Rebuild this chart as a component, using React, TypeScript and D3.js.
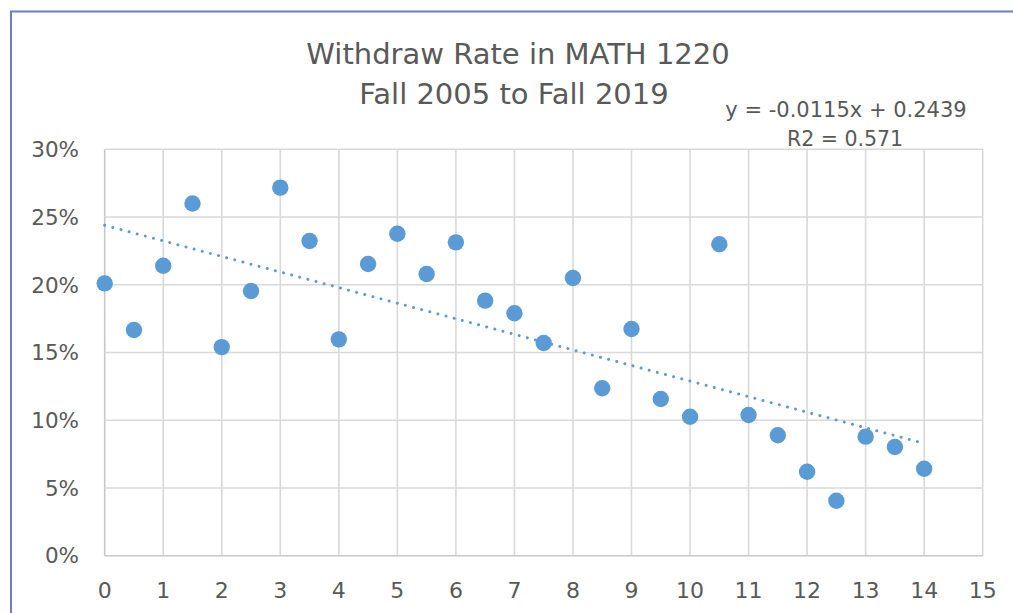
import React from "react";
import * as d3 from "d3";

const xValues = [0, 0.5, 1, 1.5, 2, 2.5, 3, 3.5, 4, 4.5, 5, 5.5, 6, 6.5, 7, 7.5, 8, 8.5, 9, 9.5, 10, 10.5, 11, 11.5, 12, 12.5, 13, 13.5, 14];
const yValues = [0.201, 0.1666, 0.214, 0.260, 0.154, 0.1954, 0.2717, 0.2323, 0.1597, 0.2153, 0.2377, 0.208, 0.2313, 0.1883, 0.179, 0.157, 0.205, 0.1236, 0.1673, 0.1157, 0.1026, 0.2299, 0.1039, 0.0889, 0.062, 0.0406, 0.0879, 0.0802, 0.0642];
const xTicks = [0, 1, 2, 3, 4, 5, 6, 7, 8, 9, 10, 11, 12, 13, 14, 15];
const yTicks = [0, 0.05, 0.1, 0.15, 0.2, 0.25, 0.3];
const trendSlope = -0.0115;
const trendIntercept = 0.2439;
const trendRange = [0, 14];
const titleLines = ["Withdraw Rate in MATH 1220", "Fall 2005 to Fall 2019"];
const equationLines = ["y = -0.0115x + 0.2439", "R2 = 0.571"];

const W = 1013;
const H = 613;
const FONT = "'DejaVu Sans', sans-serif";
const TEXT = "#595959";
const BLUE = "#5b9bd5";

export default function App() {
  const x = d3.scaleLinear().domain([0, 15]).range([104.7, 982.7]);
  const y = d3.scaleLinear().domain([0, 0.3]).range([555.7, 149.3]);
  const trend = d3
    .line<number>()
    .x((d) => x(d))
    .y((d) => y(trendSlope * d + trendIntercept));
  const fmt = d3.format(".0%");

  return (
    <svg
      width={W}
      height={H}
      style={{ position: "fixed", left: 0, top: 0, background: "#fff" }}
      fontFamily={FONT}
    >
      <rect x={0} y={0} width={W} height={H} fill="#fff" />
      <path d={`M11,${H} L11,11.5 L${W},11.5`} fill="none" stroke="#6b7fc0" strokeWidth={2} />

      {xTicks.map((t) => (
        <line key={"gx" + t} x1={x(t)} x2={x(t)} y1={y(0.3)} y2={y(0)} stroke={t === 0 ? "#c8c8c8" : "#d9d9d9"} strokeWidth={1.6} />
      ))}
      {yTicks.map((t) => (
        <line key={"gy" + t} x1={x(0)} x2={x(15)} y1={y(t)} y2={y(t)} stroke={t === 0 ? "#c8c8c8" : "#d9d9d9"} strokeWidth={1.6} />
      ))}

      {yTicks.map((t) => (
        <text key={"ly" + t} x={79} y={y(t)} dy="0.36em" textAnchor="end" fontSize={21.5} fill={TEXT}>
          {fmt(t)}
        </text>
      ))}
      {xTicks.map((t) => (
        <text key={"lx" + t} x={x(t)} y={598} textAnchor="middle" fontSize={22} fill={TEXT}>
          {t}
        </text>
      ))}

      <path
        d={trend(trendRange) || ""}
        fill="none"
        stroke={BLUE}
        strokeWidth={3}
        strokeDasharray="0.01 8.4"
        strokeLinecap="round"
      />

      {xValues.map((xv, i) => (
        <circle key={"p" + i} cx={x(xv)} cy={y(yValues[i])} r={8.2} fill={BLUE} />
      ))}

      <text x={518} y={64.3} textAnchor="middle" fontSize={29} fill={TEXT}>
        {titleLines[0]}
      </text>
      <text x={514} y={104} textAnchor="middle" fontSize={29} fill={TEXT}>
        {titleLines[1]}
      </text>

      <text x={846} y={116.7} textAnchor="middle" fontSize={21} fill={TEXT}>
        {equationLines[0]}
      </text>
      <text x={845} y={145.7} textAnchor="middle" fontSize={20.5} fill={TEXT}>
        {equationLines[1]}
      </text>
    </svg>
  );
}
